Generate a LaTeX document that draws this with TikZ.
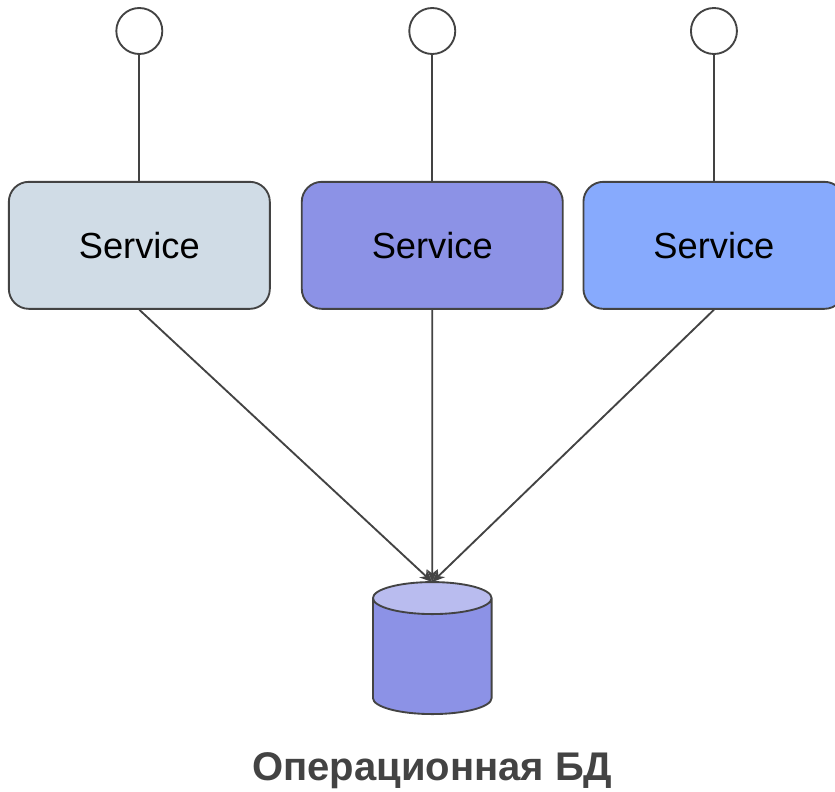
\documentclass[tikz,border=0pt]{standalone}
\usepackage{xcolor}
\usepackage{fontspec}
\setmainfont{Liberation Sans}
\usetikzlibrary{arrows.meta,shapes.geometric}

\begin{document}
\begin{tikzpicture}[node distance = 2cm]
    \definecolor{myline}{RGB}{67,67,67}
    \definecolor{mygrey}{RGB}{208,220,230}
    \definecolor{mypurple}{RGB}{140,146,230}
    \definecolor{myblue}{RGB}{135,170,253}
    \definecolor{mylight}{RGB}{185,188,239}

    \fontsize{27.2pt}{30pt}\selectfont
    \tikzstyle{format}=[rectangle,rounded corners=15pt,draw=myline,line width=1.4pt,minimum width=195.75pt,minimum height=95.25pt,inner sep=0pt,text=black]
    \tikzstyle{user}=[circle,draw=myline,line width=1.4pt,fill=white,minimum size=34.5pt,inner sep=0pt]
    \tikzstyle{base}=[cylinder,shape border rotate=90,aspect=1,draw=myline,line width=1.4pt,cylinder uses custom fill,cylinder body fill=mypurple,cylinder end fill=mylight,minimum width=89pt,minimum height=99pt,inner sep=12pt,outer sep=0pt]
    \tikzstyle{link}=[draw=myline,line width=1.4pt]
    \tikzstyle{flow}=[draw=myline,line width=1.4pt,-{Stealth[length=9.5pt,width=8pt]}]

    \useasboundingbox (0,0) rectangle (626.25pt,-594pt);

    % services
    \node[format,fill=mygrey] (s1) at (104.5pt,-184pt) {Service};
    \node[format,fill=mypurple,right of=s1,node distance=219.7pt] (s2) {Service};
    \node[format,fill=myblue,right of=s2,node distance=211.25pt] (s3) {Service};
    % users
    \node[user,above of=s1,node distance=160.75pt] (u1) {};
    \node[user,above of=s2,node distance=160.75pt] (u2) {};
    \node[user,above of=s3,node distance=160.75pt] (u3) {};
    % database
    \node[base,below of=s2,node distance=312.5pt] (db) {};
    \node[below of=db,node distance=81.25pt,font=\fontsize{30pt}{36pt}\selectfont\bfseries,text=myline] (dbname) {Операционная БД};
    % lines
    \draw[link] (u1)--(s1);
    \draw[link] (u2)--(s2);
    \draw[link] (u3)--(s3);
    \draw[flow] (s1.south)--(db.north);
    \draw[flow] (s2.south)--(db.north);
    \draw[flow] (s3.south)--(db.north);
\end{tikzpicture}
\end{document}
